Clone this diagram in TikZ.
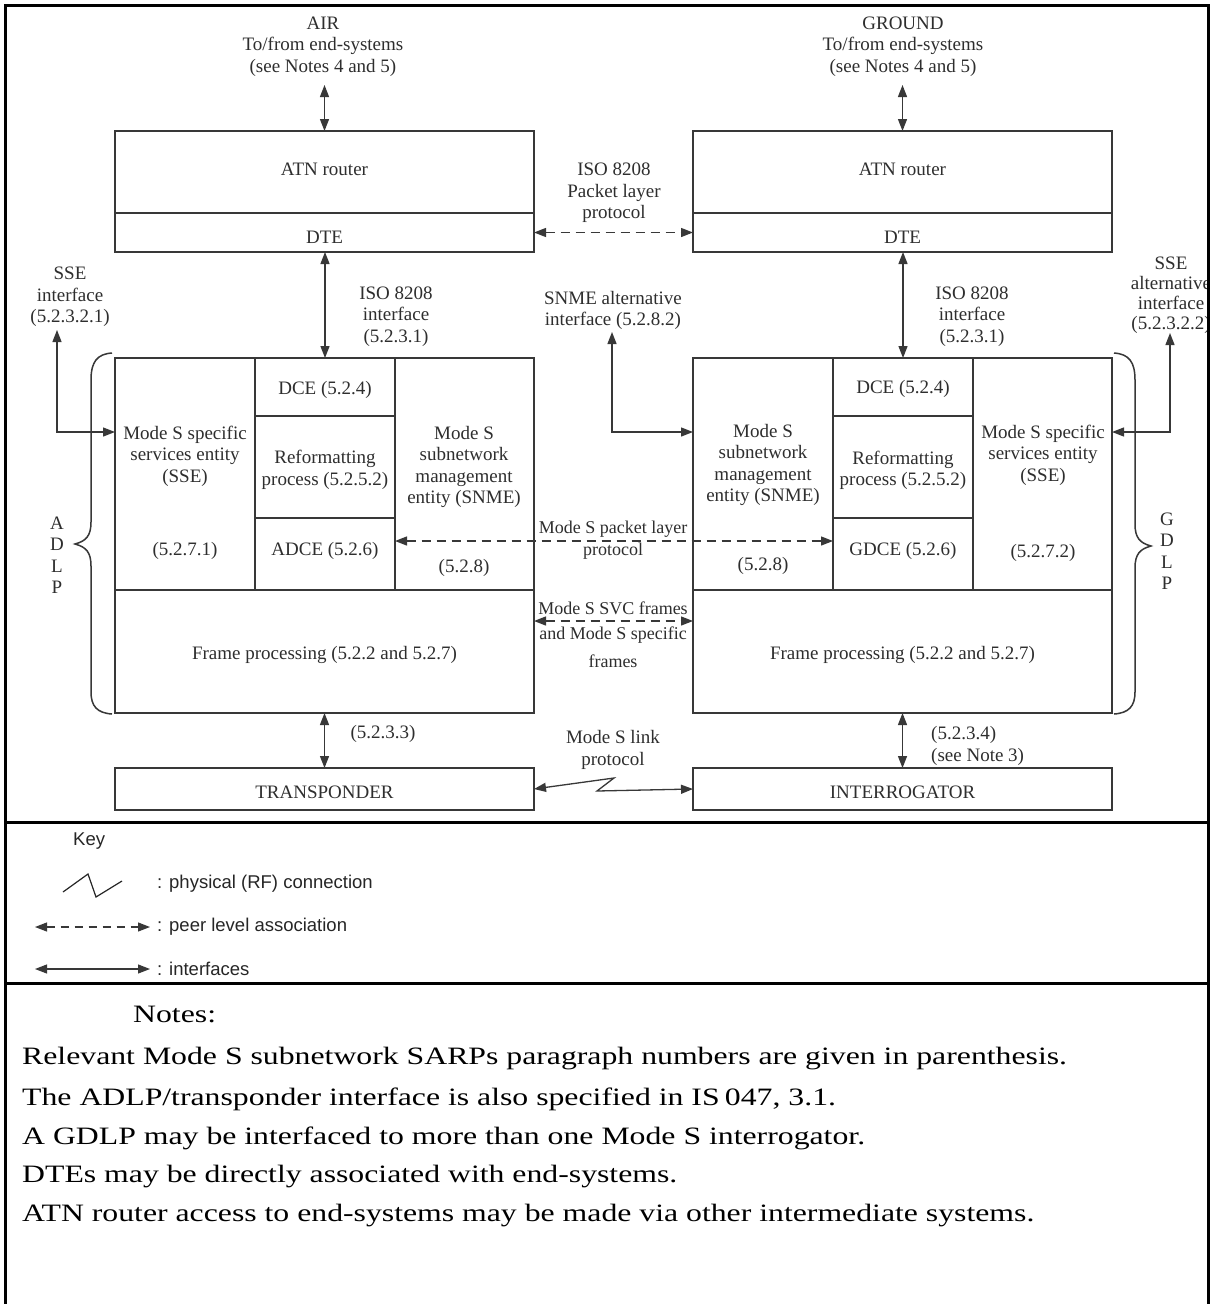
\documentclass[tikz,border=0pt]{standalone}
\usepackage{fontspec}
\setmainfont{Liberation Serif}
\newfontfamily\keyfont{Liberation Sans}
\usetikzlibrary{arrows.meta,fit,calc}
\begin{document}
\begin{tikzpicture}[x=1pt,y=-1pt,
  cell/.style={draw=black!78,line width=1.5pt,inner sep=0pt,outer sep=0pt,rectangle},
  lbl/.style={text=black!82,font=\fontsize{19}{21.5}\selectfont,align=center,inner sep=0pt},
  midlbl/.style={lbl,font=\fontsize{18}{21}\selectfont},
  biarr/.style={draw=black!78,line width=1.3pt,{Triangle[length=12pt,width=9pt]}-{Triangle[length=12pt,width=9pt]}},
  peer/.style={biarr,dash pattern=on 9pt off 6pt},
  brc/.style={draw=black!78,line width=1.5pt},
  outerline/.style={draw=black,line width=3pt},
  notetxt/.style={font=\fontsize{25}{30}\selectfont,anchor=west,inner sep=0pt},
  keytxt/.style={font=\keyfont\fontsize{18.5}{21}\selectfont,anchor=west,inner sep=0pt,text=black!85}
]
\useasboundingbox (0,0) rectangle (1210,1304);
\fill[white] (0,0) rectangle (1210,1304);

% outer frame
\draw[outerline] (5,1304) -- (5,5) -- (1208,5) -- (1208,1304);
\draw[outerline] (5,822) -- (1208,822);
\draw[outerline] (5,983) -- (1208,983);

% ---------- AIR side cells ----------
\node[cell,fit={(115,131) (534,213)}] (arouter) {};
\node[cell,fit={(115,213) (534,252)}] (adte) {};
\node[cell,fit={(115,358) (255,590)}] (asse) {};
\node[cell,fit={(255,358) (395,416)}] (adce) {};
\node[cell,fit={(255,416) (395,518)}] (aref) {};
\node[cell,fit={(255,518) (395,590)}] (aadce) {};
\node[cell,fit={(395,358) (534,590)}] (asnme) {};
\node[cell,fit={(115,590) (534,713)}] (aframe) {};
\node[cell,fit={(115,768) (534,810)}] (trans) {};

% ---------- GROUND side cells ----------
\node[cell,fit={(693,131) (1112,213)}] (grouter) {};
\node[cell,fit={(693,213) (1112,252)}] (gdte) {};
\node[cell,fit={(693,358) (833,590)}] (gsnme) {};
\node[cell,fit={(833,358) (973,416)}] (gdce) {};
\node[cell,fit={(833,416) (973,518)}] (gref) {};
\node[cell,fit={(833,518) (973,590)}] (ggdce) {};
\node[cell,fit={(973,358) (1112,590)}] (gsse) {};
\node[cell,fit={(693,590) (1112,713)}] (gframe) {};
\node[cell,fit={(693,768) (1112,810)}] (interr) {};

% ---------- texts ----------
\node[lbl] (tair) at (323,46.5) {AIR\\To/from end-systems\\(see Notes 4 and 5)};
\node[lbl] (tgnd) at (903,46.5) {GROUND\\To/from end-systems\\(see Notes 4 and 5)};
\node[lbl] at (324.5,169) {ATN router};
\node[lbl] at (324.5,237) {DTE};
\node[lbl] at (902.5,169) {ATN router};
\node[lbl] at (902.5,237) {DTE};
\node[lbl] at (614,193) {ISO 8208\\Packet layer\\protocol};
\node[lbl] at (396,316.5) {ISO 8208\\interface\\(5.2.3.1)};
\node[lbl] at (972,316.5) {ISO 8208\\interface\\(5.2.3.1)};
\node[lbl] at (613,310.5) {SNME alternative\\interface (5.2.8.2)};
\node[lbl] at (70,297) {SSE\\interface\\(5.2.3.2.1)};
\begin{scope}
\clip (0,0) rectangle (1206,1304);
\node[lbl,font=\fontsize{19}{20}\selectfont] at (1171,295.5) {SSE\\alternative\\interface\\(5.2.3.2.2)};
\end{scope}

\node[lbl] at (185,456) {Mode S specific\\services entity\\(SSE)};
\node[lbl] at (185,551) {(5.2.7.1)};
\node[lbl] at (325,390) {DCE (5.2.4)};
\node[lbl] at (325,470) {Reformatting\\process (5.2.5.2)};
\node[lbl] at (325,551) {ADCE (5.2.6)};
\node[lbl] at (464,467) {Mode S\\subnetwork\\management\\entity (SNME)};
\node[lbl] at (464,568) {(5.2.8)};
\node[lbl] at (324.5,655) {Frame processing (5.2.2 and 5.2.7)};

\node[lbl] at (763,465) {Mode S\\subnetwork\\management\\entity (SNME)};
\node[lbl] at (763,566) {(5.2.8)};
\node[lbl] at (903,389) {DCE (5.2.4)};
\node[lbl] at (903,470.5) {Reformatting\\process (5.2.5.2)};
\node[lbl] at (903,551) {GDCE (5.2.6)};
\node[lbl] at (1043,455) {Mode S specific\\services entity\\(SSE)};
\node[lbl] at (1043,553) {(5.2.7.2)};
\node[lbl] at (902.5,655) {Frame processing (5.2.2 and 5.2.7)};

\node[midlbl] at (613,529) {Mode S packet layer};
\node[midlbl] at (613,551) {protocol};
\node[midlbl] at (613,608) {Mode S SVC frames};
\node[midlbl] at (613,635) {and Mode S specific};
\node[midlbl] at (613,661) {frames};
\node[lbl] at (613,750) {Mode S link\\protocol};
\node[lbl] at (383,734) {(5.2.3.3)};
\node[lbl,align=left,anchor=west] at (931,746) {(5.2.3.4)\\(see Note 3)};
\node[lbl] at (324.5,792) {TRANSPONDER};
\node[lbl] at (902.5,792) {INTERROGATOR};

\node[lbl] at (57,555) {A\\D\\L\\P};
\node[lbl] at (1167,551) {G\\D\\L\\P};

% braces
\draw[brc] (112,353) .. controls (97,354) and (91,362) .. (91,380) -- (91,522)
  .. controls (91,536) and (86,541) .. (75,544)
  .. controls (86,547) and (91,552) .. (91,566) -- (91,692)
  .. controls (91,706) and (97,713) .. (112,714);
\draw[brc] (1114,353) .. controls (1129,354) and (1135,362) .. (1135,380) -- (1135,524)
  .. controls (1135,538) and (1140,543) .. (1151,546)
  .. controls (1140,549) and (1135,554) .. (1135,568) -- (1135,692)
  .. controls (1135,706) and (1129,713) .. (1114,714);

% ---------- connectors ----------
\coordinate (airend) at (324.5,85);
\coordinate (gndend) at (902.5,85);
\coordinate (yIf) at (0,432);
\coordinate (yPl) at (0,541);
\coordinate (ySvc) at (0,621);
\coordinate (sseL) at (57,330);
\coordinate (snmeA) at (612,332);
\coordinate (sseR) at (1170,333);
\coordinate (zig1) at (614,778);
\coordinate (zig2) at (597,791);

\draw[biarr] (airend) -- (arouter.north);
\draw[biarr] (gndend) -- (grouter.north);
\draw[peer] (adte.east) -- (gdte.west);
\draw[biarr] (adte.south -| adce.north) -- (adce.north);
\draw[biarr] (gdte.south -| gdce.north) -- (gdce.north);
\draw[biarr] (sseL) |- (asse.west |- yIf);
\draw[biarr] (snmeA) |- (gsnme.west |- yIf);
\draw[biarr] (sseR) |- (gsse.east |- yIf);
\draw[peer] (aadce.east |- yPl) -- (ggdce.west |- yPl);
\draw[peer] (aframe.east |- ySvc) -- (gframe.west |- ySvc);
\draw[biarr] (aframe.south) -- (trans.north);
\draw[biarr] (gframe.south) -- (interr.north);
\draw[biarr] (trans.east) -- (zig1) -- (zig2) -- (interr.west);

% ---------- key ----------
\node[keytxt] at (73,841) {Key};
\draw[draw=black!85,line width=1.2pt] (63,892) -- (88,874) -- (96,897) -- (122,881);
\node[keytxt] at (157,884) {: physical (RF) connection};
\coordinate (k1a) at (35,927);
\coordinate (k1b) at (150,927);
\draw[biarr,line width=1.1pt,dash pattern=on 8pt off 6pt] (k1a) -- (k1b);
\node[keytxt] at (157,927) {: peer level association};
\coordinate (k2a) at (35,969);
\coordinate (k2b) at (150,969);
\draw[biarr,line width=1.1pt] (k2a) -- (k2b);
\node[keytxt] at (157,969) {: interfaces};

% ---------- notes ----------
\node[notetxt] at (133,1014) {\scalebox{1.27}[1]{Notes:}};
\node[notetxt] at (22,1059) {\scalebox{1.27}[1]{Relevant Mode S subnetwork SARPs paragraph numbers are given in parenthesis.}};
\node[notetxt] at (22,1099) {\scalebox{1.27}[1]{The ADLP/transponder interface is also specified in IS\,047, 3.1.}};
\node[notetxt] at (22,1138) {\scalebox{1.27}[1]{A GDLP may be interfaced to more than one Mode S interrogator.}};
\node[notetxt] at (22,1177) {\scalebox{1.27}[1]{DTEs may be directly associated with end-systems.}};
\node[notetxt] at (22,1216) {\scalebox{1.27}[1]{ATN router access to end-systems may be made via other intermediate systems.}};
\end{tikzpicture}
\end{document}
